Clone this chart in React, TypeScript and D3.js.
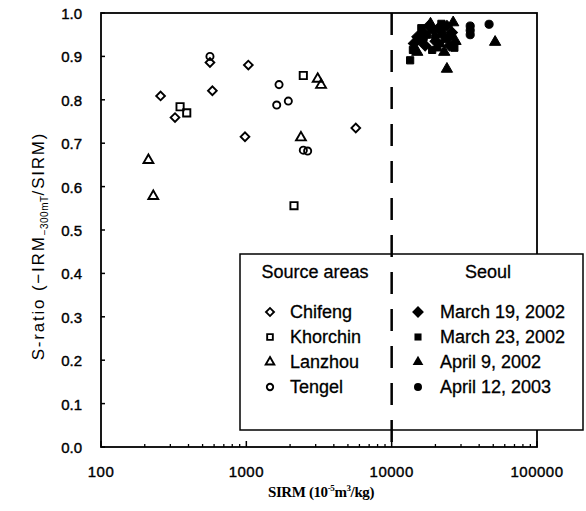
import * as d3 from 'd3';
import { useEffect, useRef } from 'react';

// Source areas: [SIRM, S-ratio]
const chifeng: [number, number][] = [
  [257, 0.809], [323, 0.759], [584, 0.821], [1032, 0.88], [979, 0.715], [5663, 0.735], [562, 0.886]
];
const khorchin: [number, number][] = [
  [350, 0.784], [389, 0.77], [2466, 0.856], [2128, 0.556]
];
const lanzhou: [number, number][] = [
  [212, 0.661], [229, 0.578], [3097, 0.848], [3268, 0.834], [2376, 0.713]
];
const tengel: [number, number][] = [
  [562, 0.9], [1679, 0.835], [1618, 0.788], [1945, 0.797], [2466, 0.684], [2642, 0.682]
];

// Seoul samples
const march19: [number, number][] = [
  [15000, 0.945], [16500, 0.955], [18000, 0.97], [19500, 0.96], [21000, 0.965], [22500, 0.95],
  [24000, 0.97], [26000, 0.955], [17000, 0.925], [20000, 0.935], [25000, 0.925], [14200, 0.93]
];
const march23: [number, number][] = [
  [13400, 0.891], [14000, 0.915], [15500, 0.935], [17500, 0.95], [19000, 0.915], [21500, 0.93],
  [23500, 0.94], [27000, 0.92], [16000, 0.965], [22000, 0.975]
];
const april9: [number, number][] = [
  [24000, 0.871], [51500, 0.933], [18500, 0.975], [20500, 0.92], [26500, 0.978], [15000, 0.91],
  [23000, 0.91], [27500, 0.935]
];
const april12: [number, number][] = [
  [46800, 0.974], [34700, 0.97], [34700, 0.96], [34700, 0.95], [20000, 0.945], [16500, 0.94],
  [25500, 0.945], [22000, 0.96]
];

const yTicks = [0, 0.1, 0.2, 0.3, 0.4, 0.5, 0.6, 0.7, 0.8, 0.9, 1.0];
const xTicks = [100, 1000, 10000, 100000];

const sourceLegend = ['Chifeng', 'Khorchin', 'Lanzhou', 'Tengel'];
const seoulLegend = ['March 19, 2002', 'March 23, 2002', 'April 9, 2002', 'April 12, 2003'];

const W = 586;
const H = 511;
const font = 'Arial, "Liberation Sans", sans-serif';

export default function App() {
  const svgRef = useRef<SVGSVGElement>(null);

  useEffect(() => {
    drawChart(svgRef.current!);
  }, []);

  return (
    <svg ref={svgRef} width={W} height={H}
      style={{ position: 'absolute', left: 0, top: 0, background: '#fff' }} />
  );
}

function symbolPath(kind: string, size: number) {
  if (kind === 'diamond') return d3.symbol(d3.symbolSquare, size)();
  if (kind === 'square') return d3.symbol(d3.symbolSquare, size)();
  if (kind === 'triangle') return d3.symbol(d3.symbolTriangle, size)();
  return d3.symbol(d3.symbolCircle, size)();
}

function drawChart(el: SVGSVGElement) {
  const left = 101, right = 537, top = 13, bottom = 447;

  const x = d3.scaleLog().domain([100, 100000]).range([left, right]);
  const y = d3.scaleLinear().domain([0, 1]).range([bottom, top]);

  const svg = d3.select(el);
  svg.selectAll('*').remove();

  // frame
  svg.append('rect')
    .attr('x', left).attr('y', top)
    .attr('width', right - left).attr('height', bottom - top)
    .attr('fill', 'none').attr('stroke', '#000').attr('stroke-width', 1.8);

  // y ticks
  svg.append('g').selectAll('line').data(yTicks).enter().append('line')
    .attr('x1', left).attr('x2', left + 4)
    .attr('y1', d => y(d)).attr('y2', d => y(d))
    .attr('stroke', '#000').attr('stroke-width', 1.5);

  svg.append('g').selectAll('text').data(yTicks).enter().append('text')
    .attr('x', 82).attr('y', d => y(d) + 6)
    .attr('text-anchor', 'end')
    .attr('font-family', font).attr('font-size', 15)
    .attr('stroke', '#000').attr('stroke-width', 0.4)
    .text(d => d.toFixed(1));

  // x ticks (log minor)
  const minor: number[] = [];
  for (let dec = 100; dec < 100000; dec *= 10) {
    for (let k = 2; k <= 9; k++) minor.push(dec * k);
  }
  svg.append('g').selectAll('line').data(minor).enter().append('line')
    .attr('x1', d => x(d)).attr('x2', d => x(d))
    .attr('y1', bottom).attr('y2', bottom - 3)
    .attr('stroke', '#000').attr('stroke-width', 1.3);
  svg.append('g').selectAll('line').data(xTicks).enter().append('line')
    .attr('x1', d => x(d)).attr('x2', d => x(d))
    .attr('y1', bottom).attr('y2', bottom - 6)
    .attr('stroke', '#000').attr('stroke-width', 1.5);

  svg.append('g').selectAll('text').data(xTicks).enter().append('text')
    .attr('x', d => x(d)).attr('y', 477)
    .attr('text-anchor', 'middle')
    .attr('font-family', font).attr('font-size', 15)
    .attr('letter-spacing', 0.5)
    .attr('stroke', '#000').attr('stroke-width', 0.4)
    .text(d => String(d));

  // axis titles
  const xt = svg.append('text')
    .attr('x', 321).attr('y', 497)
    .attr('text-anchor', 'middle')
    .attr('font-family', '"Liberation Serif", "Times New Roman", serif')
    .attr('font-weight', 'bold').attr('font-size', 15)
    .attr('letter-spacing', -0.4);
  xt.append('tspan').text('SIRM (10');
  xt.append('tspan').attr('dy', -6).attr('font-size', 9).text('-5');
  xt.append('tspan').attr('dy', 6).text('m');
  xt.append('tspan').attr('dy', -6).attr('font-size', 9).text('3');
  xt.append('tspan').attr('dy', 6).text('/kg)');

  const yt = svg.append('text')
    .attr('transform', 'translate(44,246) rotate(-90)')
    .attr('text-anchor', 'middle')
    .attr('font-family', font).attr('font-size', 17)
    .attr('letter-spacing', 1.8);
  yt.append('tspan').text('S-ratio (\u2212IRM');
  yt.append('tspan').attr('dy', 4).attr('font-size', 10).attr('letter-spacing', 0.5).text('\u2212300mT');
  yt.append('tspan').attr('dy', -4).text('/SIRM)');

  // points
  const openSeries: [string, [number, number][], number][] = [
    ['diamond', chifeng, 38],
    ['square', khorchin, 52],
    ['triangle', lanzhou, 42],
    ['circle', tengel, 40],
  ];
  const filledSeries: [string, [number, number][], number][] = [
    ['diamond', march19, 60],
    ['square', march23, 52],
    ['triangle', april9, 55],
    ['circle', april12, 52],
  ];

  const pts = svg.append('g');
  openSeries.forEach(([kind, data, size]) => {
    pts.append('g').selectAll('path').data(data).enter().append('path')
      .attr('d', symbolPath(kind, size))
      .attr('transform', d => `translate(${x(d[0])},${y(d[1])})${kind === 'diamond' ? ' rotate(45)' : ''}`)
      .attr('fill', 'none').attr('stroke', '#000').attr('stroke-width', 1.9);
  });
  filledSeries.forEach(([kind, data, size]) => {
    pts.append('g').selectAll('path').data(data).enter().append('path')
      .attr('d', symbolPath(kind, size))
      .attr('transform', d => `translate(${x(d[0])},${y(d[1])})${kind === 'diamond' ? ' rotate(45)' : ''}`)
      .attr('fill', '#000').attr('stroke', '#000').attr('stroke-width', 1);
  });

  // legend
  const lg = svg.append('g');
  lg.append('rect')
    .attr('x', 240).attr('y', 254).attr('width', 343).attr('height', 176)
    .attr('fill', '#fff').attr('stroke', '#000').attr('stroke-width', 1.5);
  lg.append('text').attr('x', 315).attr('y', 278).attr('text-anchor', 'middle')
    .attr('font-family', font).attr('font-size', 18)
    .attr('stroke', '#000').attr('stroke-width', 0.3).text('Source areas');
  lg.append('text').attr('x', 488).attr('y', 278).attr('text-anchor', 'middle')
    .attr('font-family', font).attr('font-size', 18)
    .attr('stroke', '#000').attr('stroke-width', 0.3).text('Seoul');

  const kinds = ['diamond', 'square', 'triangle', 'circle'];
  const rowY = d3.scalePoint<number>().domain([0, 1, 2, 3]).range([312, 387]);

  sourceLegend.forEach((name, i) => {
    const cy = rowY(i)!;
    lg.append('path')
      .attr('d', symbolPath(kinds[i], 32))
      .attr('transform', `translate(270,${cy})${kinds[i] === 'diamond' ? ' rotate(45)' : ''}`)
      .attr('fill', 'none').attr('stroke', '#000').attr('stroke-width', 1.9);
    lg.append('text').attr('x', 290).attr('y', cy + 6)
      .attr('font-family', font).attr('font-size', 18)
      .attr('stroke', '#000').attr('stroke-width', 0.3).text(name);
  });
  seoulLegend.forEach((name, i) => {
    const cy = rowY(i)!;
    lg.append('path')
      .attr('d', symbolPath(kinds[i], i === 0 ? 70 : 50))
      .attr('transform', `translate(418,${cy})${kinds[i] === 'diamond' ? ' rotate(45)' : ''}`)
      .attr('fill', '#000');
    lg.append('text').attr('x', 440).attr('y', cy + 6)
      .attr('font-family', font).attr('font-size', 18)
      .attr('stroke', '#000').attr('stroke-width', 0.3).text(name);
  });

  // dashed divider at 10000
  svg.append('line')
    .attr('x1', x(10000)).attr('x2', x(10000))
    .attr('y1', top).attr('y2', bottom)
    .attr('stroke', '#000').attr('stroke-width', 2.5)
    .attr('stroke-dasharray', '22 15');
}
